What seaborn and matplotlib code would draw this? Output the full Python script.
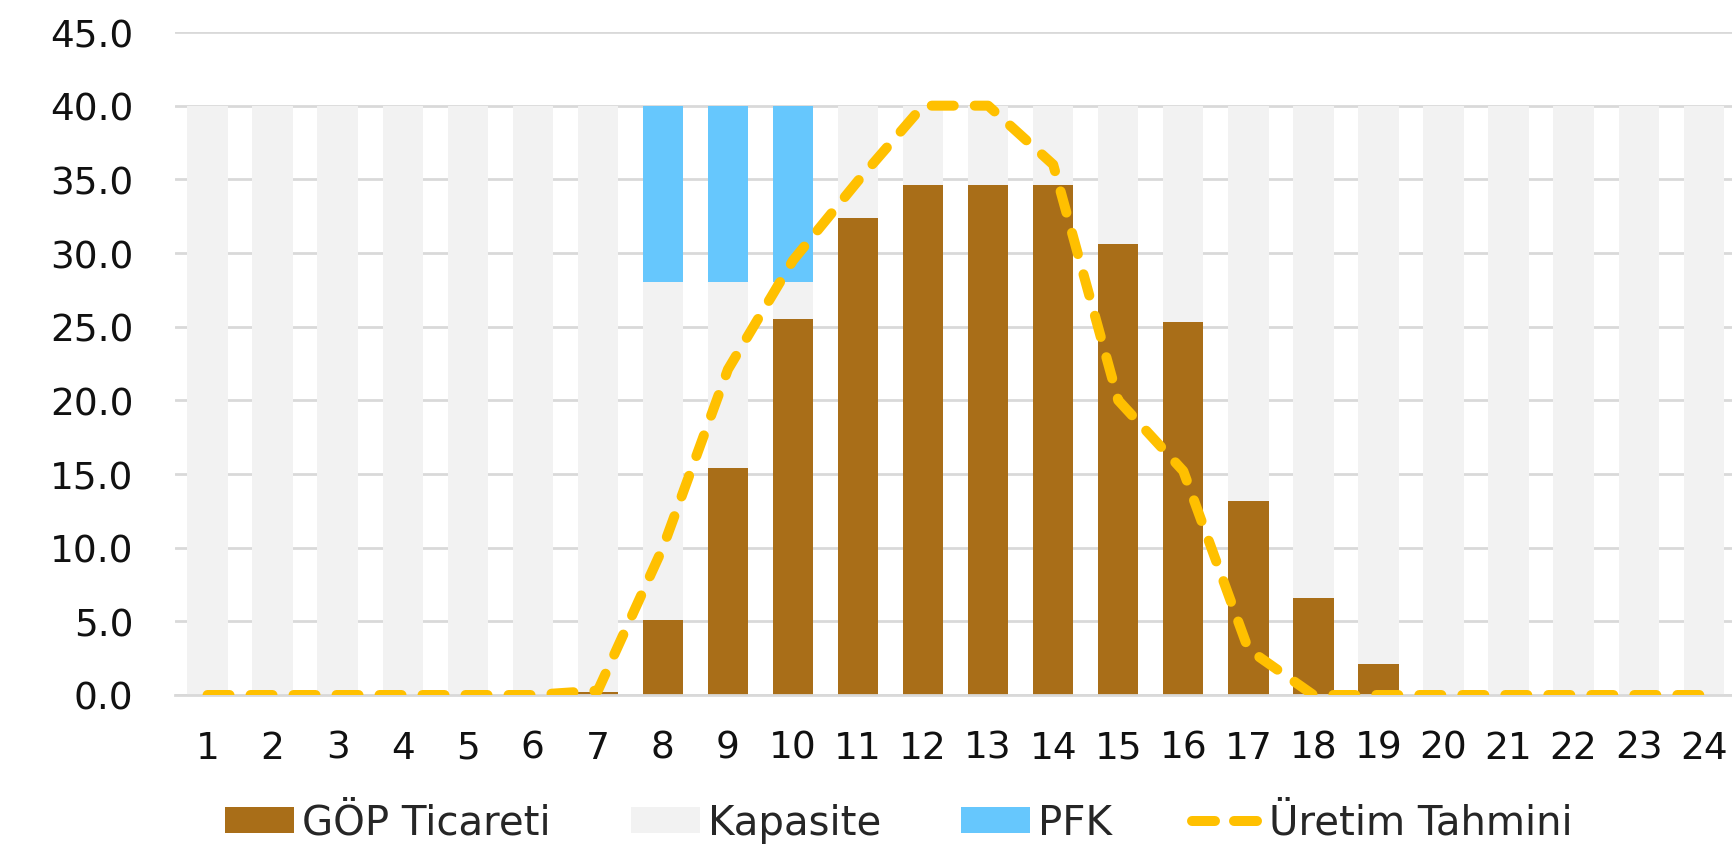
import matplotlib
matplotlib.use("Agg")
import matplotlib.pyplot as plt
import numpy as np
import seaborn as sns
from matplotlib.patches import Patch
from matplotlib.lines import Line2D

# -----------------------------
# Data
# -----------------------------
hours = [str(h) for h in range(1, 25)]
goep_ticareti = [0, 0, 0, 0, 0, 0, 0.2, 5.1, 15.4, 25.5, 32.4, 34.6,
                 34.6, 34.6, 30.6, 25.3, 13.2, 6.6, 2.1, 0, 0, 0, 0, 0]
kapasite = [40, 40, 40, 40, 40, 40, 39.8, 22.9, 12.6, 2.5, 7.6, 5.4,
            5.4, 5.4, 9.4, 14.7, 26.8, 33.4, 37.9, 40, 40, 40, 40, 40]
pfk = [0, 0, 0, 0, 0, 0, 0, 12, 12, 12, 0, 0,
       0, 0, 0, 0, 0, 0, 0, 0, 0, 0, 0, 0]
uretim_tahmini = [0, 0, 0, 0, 0, 0, 0.3, 10.0, 22.1, 29.5, 34.9, 40,
                  40, 36.0, 20.0, 15.2, 3.1, 0, 0, 0, 0, 0, 0, 0]

series_names = ["GÖP Ticareti", "Kapasite", "PFK", "Üretim Tahmini"]
c_goep, c_kap, c_pfk, c_line = "#A96E18", "#F2F2F2", "#66C7FD", "#FFC000"
grid_color = "#D9D9D9"

sns.set_style("white")
plt.rcParams["font.family"] = ["DejaVu Sans"]

W, H = 1733, 853
fig = plt.figure(figsize=(W / 100, H / 100), dpi=100)
ax = fig.add_axes([175 / W, 1 - 696 / H, 1 - 175 / W, (696 - 33) / H])

# -----------------------------
# Stacked bars (drawn as cumulative layers, top layer first)
# -----------------------------
g = np.array(goep_ticareti)
k = np.array(kapasite)
p = np.array(pfk)
layers = [(g + k + p, c_pfk), (g + k, c_kap), (g, c_goep)]
for heights, col in layers:
    sns.barplot(x=hours, y=heights, order=hours, color=col, saturation=1,
                width=0.62, linewidth=0, ax=ax, errorbar=None)

# forecast line
dash = (0, (2.2, 2.1))
sns.lineplot(x=np.arange(24), y=uretim_tahmini, color=c_line, linewidth=7.2,
             linestyle=dash, dash_capstyle="round", ax=ax, zorder=5)

# -----------------------------
# Axes styling
# -----------------------------
ax.set_ylim(0, 45)
ax.set_xlim(-0.5, 23.45)
ax.set_yticks(np.arange(0, 46, 5))
ax.set_yticklabels([f"{v:.1f}" for v in np.arange(0, 46, 5)])
ax.set_xlabel("")
ax.set_ylabel("")
ax.set_axisbelow(True)
ax.yaxis.grid(True, color=grid_color, linewidth=2)
ax.xaxis.grid(False)
for s in ["top", "right", "left"]:
    ax.spines[s].set_visible(False)
ax.spines["bottom"].set_color(grid_color)
ax.spines["bottom"].set_linewidth(2)
ax.tick_params(axis="y", length=0, pad=30, labelsize=27, labelcolor="#111111")
ax.tick_params(axis="x", length=0, pad=25, labelsize=27, labelcolor="#111111")

# -----------------------------
# Legend
# -----------------------------
handles = [
    Patch(facecolor=c_goep, edgecolor="none"),
    Patch(facecolor=c_kap, edgecolor="none"),
    Patch(facecolor=c_pfk, edgecolor="none"),
    Line2D([0], [0], color=c_line, linewidth=7.2, linestyle=(0, (2.3, 1.9)),
           dash_capstyle="round"),
]
fig.legend(handles, series_names, loc="center", bbox_to_anchor=(899 / W, 1 - 824 / H),
           ncol=4, frameon=False, fontsize=29, handlelength=1.7, handleheight=0.6,
           handletextpad=0.2, columnspacing=2.0)

fig.savefig("out.png", dpi=100)
